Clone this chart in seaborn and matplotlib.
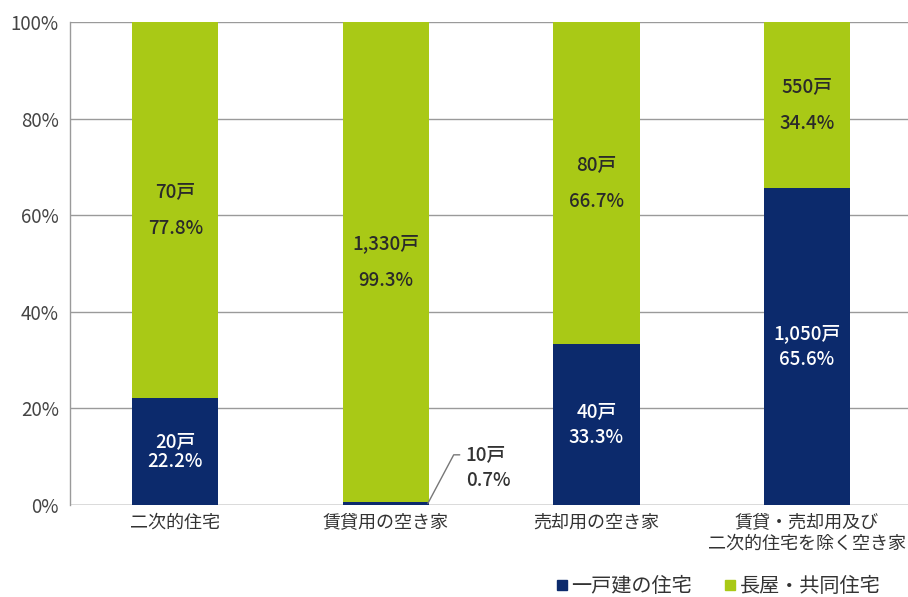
import matplotlib
matplotlib.use("Agg")
import matplotlib.pyplot as plt
import seaborn as sns
import pandas as pd
from matplotlib.lines import Line2D

categories = ["二次的住宅", "賃貸用の空き家", "売却用の空き家", "賃貸・売却用及び\n二次的住宅を除く空き家"]
detached_counts = ["20戸", "10戸", "40戸", "1,050戸"]
collective_counts = ["70戸", "1,330戸", "80戸", "550戸"]
detached_pct = [22.2, 0.7, 33.3, 65.6]
collective_pct = [77.8, 99.3, 66.7, 34.4]
series_names = ["一戸建の住宅", "長屋・共同住宅"]
yticks = [0, 20, 40, 60, 80, 100]
ytick_labels = ["0%", "20%", "40%", "60%", "80%", "100%"]

NAVY = "#0c2a6c"
GREEN = "#a9c916"

sns.set_theme(style="white")
plt.rcParams["font.family"] = ["Noto Sans CJK JP", "DejaVu Sans"]

df = pd.DataFrame({
    "cat": categories,
    "detached": detached_pct,
    "total": [d + c for d, c in zip(detached_pct, collective_pct)],
})

fig = plt.figure(figsize=(9.08, 5.97), dpi=100)
ax = fig.add_axes([0.077, 0.154, 0.923, 0.809])

sns.barplot(data=df, x="cat", y="total", color=GREEN, width=0.41, ax=ax, saturation=1,
            zorder=3, linewidth=0)
sns.barplot(data=df, x="cat", y="detached", color=NAVY, width=0.41, ax=ax, saturation=1,
            zorder=4, linewidth=0)

ax.set_ylim(0, 100)
ax.set_xlim(-0.5, 3.48)
ax.set_yticks(yticks)
ax.set_yticklabels(ytick_labels, fontsize=13.5, color="#444444")
ax.tick_params(axis="y", length=0, pad=8)
ax.tick_params(axis="x", length=0, pad=6)
for lbl in ax.get_xticklabels():
    lbl.set_fontsize(13)
    lbl.set_color("#333333")
    lbl.set_linespacing(1.25)
ax.set_xlabel("")
ax.set_ylabel("")
ax.yaxis.grid(True, color="#9a9a9a", linewidth=1.0, zorder=0)
ax.set_axisbelow(True)
for s in ["top", "right", "bottom"]:
    ax.spines[s].set_visible(False)
ax.spines["left"].set_color("#9a9a9a")
ax.spines["left"].set_linewidth(1.0)
ax.axhline(0, color="#9a9a9a", lw=1.0, zorder=2)

for i in range(len(categories)):
    d = detached_pct[i]
    c = collective_pct[i]
    ax.text(i, d + c / 2, f"{collective_counts[i]}\n\n{c:.1f}%", ha="center", va="center",
            fontsize=13.5, color="#2a2a2a", linespacing=0.95, zorder=6, fontweight="medium")
    if d > 5:
        ls = 1.1 if d < 25 else 1.45
        ax.text(i, d / 2, f"{detached_counts[i]}\n{d:.1f}%", ha="center", va="center",
                fontsize=13.5, color="white", linespacing=ls, zorder=6, fontweight="medium")
    else:
        ax.annotate(detached_counts[i], xy=(i + 0.2, d / 2), xytext=(i + 0.38, 10.4),
                    ha="left", va="center", fontsize=13.5, color="#333333", fontweight="medium",
                    arrowprops=dict(arrowstyle="-", color="#777777", lw=1,
                                    connectionstyle="angle,angleA=0,angleB=62,rad=0",
                                    shrinkA=2, shrinkB=0),
                    zorder=6)
        ax.text(i + 0.38, 5.0, f"{d:.1f}%", ha="left", va="center", fontsize=13.5,
                color="#333333", fontweight="medium", zorder=6)

handles = [Line2D([0], [0], marker="s", linestyle="", markersize=7, color=NAVY),
           Line2D([0], [0], marker="s", linestyle="", markersize=7, color=GREEN)]
fig.legend(handles, series_names, loc="lower center", bbox_to_anchor=(0.79, -0.03), ncol=2,
           frameon=False, fontsize=14.5, handletextpad=0.05, columnspacing=1.5, handlelength=0.8,
           labelcolor="#333333")

fig.savefig("out.png", dpi=100)
